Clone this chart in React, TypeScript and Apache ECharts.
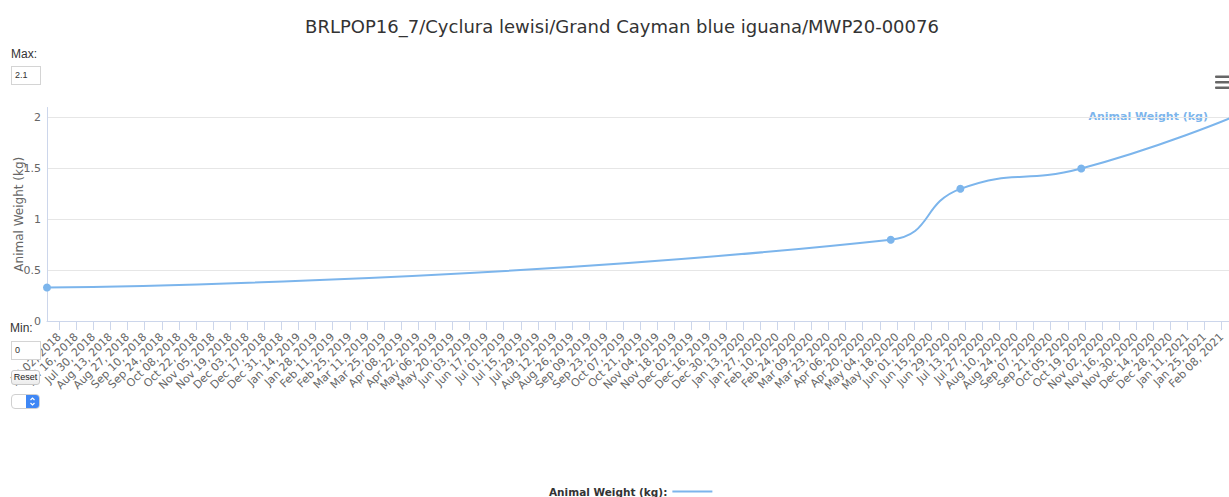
import React, { useEffect, useRef } from "react";
import * as echarts from "echarts";

const TITLE = "BRLPOP16_7/Cyclura lewisi/Grand Cayman blue iguana/MWP20-00076";
const SERIES_NAME = "Animal Weight (kg)";
const DATES = ["2018-06-22", "2020-05-13", "2020-07-09", "2020-10-16", "2021-02-16"];
const WEIGHTS = [0.33, 0.8, 1.3, 1.5, 2.0];
const X_MIN = "2018-06-22";
const X_MAX = "2021-02-14";
const Y_MIN = 0;
const Y_MAX = 2.1;
const Y_STEP = 0.5;
const MAX_INPUT = "2.1";
const MIN_INPUT = "0";
const TICK_LABELS = [
  "Jul 02, 2018", "Jul 16, 2018", "Jul 30, 2018", "Aug 13, 2018", "Aug 27, 2018", "Sep 10, 2018",
  "Sep 24, 2018", "Oct 08, 2018", "Oct 22, 2018", "Nov 05, 2018", "Nov 19, 2018", "Dec 03, 2018",
  "Dec 17, 2018", "Dec 31, 2018",
  "Jan 14, 2019", "Jan 28, 2019", "Feb 11, 2019", "Feb 25, 2019", "Mar 11, 2019", "Mar 25, 2019",
  "Apr 08, 2019", "Apr 22, 2019", "May 06, 2019", "May 20, 2019", "Jun 03, 2019", "Jun 17, 2019",
  "Jul 01, 2019", "Jul 15, 2019", "Jul 29, 2019", "Aug 12, 2019", "Aug 26, 2019", "Sep 09, 2019",
  "Sep 23, 2019", "Oct 07, 2019", "Oct 21, 2019", "Nov 04, 2019", "Nov 18, 2019", "Dec 02, 2019",
  "Dec 16, 2019", "Dec 30, 2019",
  "Jan 13, 2020", "Jan 27, 2020", "Feb 10, 2020", "Feb 24, 2020", "Mar 09, 2020", "Mar 23, 2020",
  "Apr 06, 2020", "Apr 20, 2020", "May 04, 2020", "May 18, 2020", "Jun 01, 2020", "Jun 15, 2020",
  "Jun 29, 2020", "Jul 13, 2020", "Jul 27, 2020", "Aug 10, 2020", "Aug 24, 2020", "Sep 07, 2020",
  "Sep 21, 2020", "Oct 05, 2020", "Oct 19, 2020", "Nov 02, 2020", "Nov 16, 2020", "Nov 30, 2020",
  "Dec 14, 2020", "Dec 28, 2020",
  "Jan 11, 2021", "Jan 25, 2021", "Feb 08, 2021",
];

const MONTHS: Record<string, number> = {
  Jan: 0, Feb: 1, Mar: 2, Apr: 3, May: 4, Jun: 5, Jul: 6, Aug: 7, Sep: 8, Oct: 9, Nov: 10, Dec: 11,
};

function isoTs(s: string): number {
  const [y, m, d] = s.split("-").map(Number);
  return Date.UTC(y, m - 1, d);
}
function labelTs(s: string): number {
  const [md, y] = s.split(", ");
  const [mon, d] = md.split(" ");
  return Date.UTC(Number(y), MONTHS[mon], Number(d));
}

const COLOR = "#7cb5ec";
const FONT = '"DejaVu Sans", Verdana, sans-serif';

export default function App() {
  const ref = useRef<HTMLDivElement>(null);
  useEffect(() => {
    if (!ref.current) return;
    const chart = echarts.init(ref.current, undefined, { renderer: "svg" });
    const tickTs = TICK_LABELS.map(labelTs);
    const labelMap = new Map<number, string>();
    TICK_LABELS.forEach((l, i) => labelMap.set(tickTs[i], l));
    chart.setOption({
      animation: false,
      textStyle: { fontFamily: FONT },
      title: {
        text: TITLE,
        left: 617,
        textAlign: "center",
        top: 12,
        textStyle: { fontSize: 18, fontWeight: "normal", color: "#333", fontFamily: FONT },
      },
      grid: {
        left: 47,
        right: 0,
        top: 107.5,
        bottom: 176,
        containLabel: false,
        outerBoundsMode: "none",
      },
      xAxis: {
        type: "value",
        min: isoTs(X_MIN),
        max: isoTs(X_MAX),
        axisLine: { show: true, lineStyle: { color: "#ccd6eb", width: 1 } },
        axisTick: { show: true, customValues: tickTs, length: 9, lineStyle: { color: "#ccd6eb" } },
        axisLabel: {
          customValues: tickTs,
          rotate: 45,
          margin: 14,
          color: "#666",
          fontSize: 11,
          fontFamily: FONT,
          formatter: (v: number) => labelMap.get(v) ?? "",
        },
        splitLine: { show: false },
      },
      yAxis: {
        type: "value",
        min: Y_MIN,
        max: Y_MAX,
        interval: Y_STEP,
        name: SERIES_NAME,
        nameLocation: "middle",
        nameGap: 22,
        nameMoveOverlap: false,
        nameTextStyle: { color: "#666", fontSize: 12, fontFamily: FONT },
        axisLine: { show: true, lineStyle: { color: "#ccd6eb" } },
        axisTick: { show: false },
        axisLabel: { showMaxLabel: false, color: "#666", fontSize: 11, margin: 6, fontFamily: FONT },
        splitLine: { show: true, showMaxLine: false, lineStyle: { color: "#e6e6e6" } },
      },
      legend: {
        data: [{ name: SERIES_NAME }],
        icon: "rect",
        itemWidth: 40,
        itemHeight: 2,
        itemGap: 5,
        align: "right",
        formatter: "{name}:",
        left: 544,
        top: 481,
        selectedMode: false,
        textStyle: { fontWeight: "bold", fontSize: 10.5, color: "#333", fontFamily: FONT },
      },
      series: [
        {
          name: SERIES_NAME,
          type: "line",
          smooth: true,
          clip: true,
          symbol: "circle",
          symbolSize: 8,
          showSymbol: true,
          lineStyle: { color: COLOR, width: 2 },
          itemStyle: { color: COLOR },
          data: DATES.map((d, i) => [isoTs(d), WEIGHTS[i]]),
        },
      ],
      graphic: [
        {
          type: "text",
          x: 1208,
          y: 116,
          style: {
            text: SERIES_NAME,
            fill: COLOR,
            font: `bold 11px ${FONT}`,
            textAlign: "right",
            textVerticalAlign: "middle",
          },
        },
        { type: "rect", shape: { x: 1215, y: 75.5, width: 16, height: 2.5, r: 1 }, style: { fill: "#666" } },
        { type: "rect", shape: { x: 1215, y: 81, width: 16, height: 2.5, r: 1 }, style: { fill: "#666" } },
        { type: "rect", shape: { x: 1215, y: 86.5, width: 16, height: 2.5, r: 1 }, style: { fill: "#666" } },
      ],
    });
    return () => chart.dispose();
  }, []);

  const labelStyle: React.CSSProperties = {
    position: "absolute",
    fontFamily: "Helvetica, Arial, sans-serif",
    fontSize: 12,
    color: "#333",
  };
  const boxStyle: React.CSSProperties = {
    position: "absolute",
    left: 11,
    width: 30,
    height: 19,
    boxSizing: "border-box",
    border: "1px solid #d4d4d4",
    background: "#fff",
    fontFamily: "Helvetica, Arial, sans-serif",
    fontSize: 9,
    color: "#333",
    paddingLeft: 3,
    lineHeight: "17px",
  };

  return (
    <div style={{ position: "absolute", left: 0, top: 0, width: 1229, height: 497, overflow: "hidden", background: "#fff" }}>
      <div ref={ref} style={{ position: "absolute", left: 0, top: 0, width: 1229, height: 497 }} />
      <div style={{ ...labelStyle, left: 11, top: 47 }}>Max:</div>
      <div style={{ ...boxStyle, top: 66 }}>{MAX_INPUT}</div>
      <div style={{ ...labelStyle, left: 10, top: 321 }}>Min:</div>
      <div style={{ ...boxStyle, top: 341 }}>{MIN_INPUT}</div>
      <div
        style={{
          position: "absolute",
          left: 11,
          top: 370,
          width: 29,
          height: 15,
          boxSizing: "border-box",
          border: "1px solid #c8c8c8",
          borderRadius: 3,
          background: "linear-gradient(#ffffff, #ececec)",
          fontFamily: "Helvetica, Arial, sans-serif",
          fontSize: 9,
          color: "#222",
          textAlign: "center",
          lineHeight: "13px",
        }}
      >
        Reset
      </div>
      <div
        style={{
          position: "absolute",
          left: 11,
          top: 394,
          width: 29,
          height: 15,
          boxSizing: "border-box",
          border: "1px solid #d0d0d0",
          borderRadius: 4,
          background: "#fff",
          overflow: "hidden",
        }}
      >
        <div style={{ position: "absolute", right: 0, top: 0, width: 13, height: 13, background: "#3f87f5" }}>
          <svg width="13" height="13" viewBox="0 0 13 13" style={{ display: "block" }}>
            <polyline points="4.5,5 6.5,3 8.5,5" fill="none" stroke="#fff" strokeWidth="1.2" />
            <polyline points="4.5,8 6.5,10 8.5,8" fill="none" stroke="#fff" strokeWidth="1.2" />
          </svg>
        </div>
      </div>
    </div>
  );
}
